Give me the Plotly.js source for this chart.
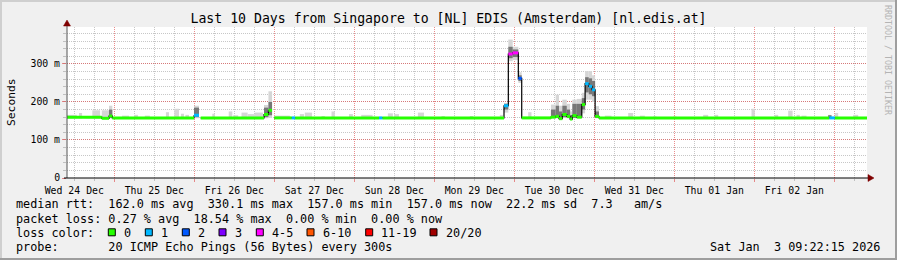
<!DOCTYPE html>
<html>
<head>
<meta charset="utf-8">
<script src="https://cdn.plot.ly/plotly-3.0.1.min.js"></script>
<style>
  html, body { margin: 0; padding: 0; background: #f0f0f0; }
  #wrap { position: relative; width: 897px; height: 260px; overflow: hidden; }
  #chart { width: 897px; height: 260px; }
  .bd { position: absolute; pointer-events: none; }
</style>
</head>
<body>
<div id="wrap">
  <div id="chart"></div>
  <div class="bd" style="left:0;top:0;width:897px;height:2px;background:#cfcfcf"></div>
  <div class="bd" style="left:0;top:0;width:2px;height:260px;background:#cfcfcf"></div>
  <div class="bd" style="left:0;top:258px;width:897px;height:2px;background:#9e9e9e"></div>
  <div class="bd" style="left:895px;top:0;width:2px;height:260px;background:#9e9e9e"></div>
</div>
<script>
// ---------------- DATA ----------------
const titleText = 'Last 10 Days from Singapore to [NL] EDIS (Amsterdam) [nl.edis.at]';
const rangeStart = '2025-12-24 09:49';
const rangeEnd = '2026-01-03 09:49';

// median RTT (ms) as step series; null = no data; loss = lost pings of 20
const medTime = ['2025-12-24 09:49','2025-12-24 20:15','2025-12-24 22:25','2025-12-24 23:25',
  '2025-12-25 23:55','2025-12-26 01:25','2025-12-26 01:55','2025-12-26 20:55','2025-12-26 22:15','2025-12-26 23:20',
  '2025-12-27 00:00','2025-12-27 05:15','2025-12-27 06:15','2025-12-28 07:25','2025-12-28 08:25',
  '2025-12-29 20:55','2025-12-29 22:13','2025-12-29 23:32','2025-12-30 01:13','2025-12-30 02:14',
  '2025-12-30 11:00','2025-12-30 12:25','2025-12-30 13:25','2025-12-30 14:25','2025-12-30 15:45',
  '2025-12-30 16:45','2025-12-30 17:25','2025-12-30 18:45','2025-12-30 20:15','2025-12-30 21:15',
  '2025-12-30 22:20','2025-12-30 23:20','2025-12-31 00:15','2025-12-31 01:25',
  '2026-01-02 22:30','2026-01-03 00:10'];
const medMs = [160,157,163,158,
  165,null,158,167,178,null,
  158,158,158,158,158,
  190,326,329,262,158,
  160,162,156,167,162,
  155,164,160,193,248,
  241,232,162,158,
  158,158];
const medLoss = [0,0,0,0,
  1,0,0,0,0,0,
  0,1,0,1,0,
  1,4,4,2,0,
  0,0,0,0,0,
  0,0,0,0,1,
  1,1,0,0,
  1,0];

// smoke (spread of the 20 pings): outer band and darker inner band, ms
const smkStart = ['2025-12-24 09:49','2025-12-24 13:25','2025-12-24 15:15','2025-12-24 17:25','2025-12-24 20:15','2025-12-24 22:25',
  '2025-12-25 02:20','2025-12-25 05:55','2025-12-25 09:10','2025-12-25 15:30','2025-12-25 18:00','2025-12-25 20:00','2025-12-25 21:20','2025-12-25 23:55',
  '2025-12-26 05:25','2025-12-26 10:20','2025-12-26 11:40','2025-12-26 14:10','2025-12-26 16:00','2025-12-26 18:10','2025-12-26 20:55','2025-12-26 22:15',
  '2025-12-27 00:00','2025-12-27 07:40','2025-12-27 09:10','2025-12-27 14:10','2025-12-27 17:10','2025-12-27 22:25',
  '2025-12-28 02:05','2025-12-28 10:05','2025-12-28 11:55','2025-12-28 19:05',
  '2025-12-29 02:10','2025-12-29 10:40','2025-12-29 19:40','2025-12-29 20:55','2025-12-29 22:13','2025-12-29 23:32','2025-12-30 01:13',
  '2025-12-30 04:10','2025-12-30 11:00','2025-12-30 12:25','2025-12-30 13:25','2025-12-30 14:25','2025-12-30 15:45','2025-12-30 16:45',
  '2025-12-30 17:25','2025-12-30 18:45','2025-12-30 20:15','2025-12-30 21:15','2025-12-30 22:20','2025-12-30 23:20','2025-12-31 00:15',
  '2025-12-31 03:10','2025-12-31 10:10','2025-12-31 13:40','2025-12-31 17:40','2025-12-31 23:40',
  '2026-01-01 08:40','2026-01-01 12:10','2026-01-01 23:10',
  '2026-01-02 06:10','2026-01-02 10:10','2026-01-02 12:40','2026-01-02 14:10','2026-01-02 22:10','2026-01-03 00:10','2026-01-03 05:40'];
const smkEnd = ['2025-12-24 12:45','2025-12-24 14:20','2025-12-24 16:45','2025-12-24 19:45','2025-12-24 22:25','2025-12-24 23:25',
  '2025-12-25 04:25','2025-12-25 07:05','2025-12-25 10:40','2025-12-25 16:25','2025-12-25 19:25','2025-12-25 20:55','2025-12-25 22:25','2025-12-26 01:25',
  '2025-12-26 06:10','2025-12-26 11:25','2025-12-26 13:10','2025-12-26 16:00','2025-12-26 18:10','2025-12-26 20:35','2025-12-26 22:15','2025-12-26 23:20',
  '2025-12-27 04:40','2025-12-27 08:55','2025-12-27 11:20','2025-12-27 15:10','2025-12-27 18:10','2025-12-27 23:35',
  '2025-12-28 05:30','2025-12-28 11:35','2025-12-28 13:25','2025-12-28 20:55',
  '2025-12-29 03:10','2025-12-29 11:40','2025-12-29 20:40','2025-12-29 22:13','2025-12-29 23:32','2025-12-30 01:13','2025-12-30 02:14',
  '2025-12-30 05:10','2025-12-30 12:25','2025-12-30 13:25','2025-12-30 14:25','2025-12-30 15:45','2025-12-30 16:45','2025-12-30 17:25',
  '2025-12-30 18:45','2025-12-30 20:15','2025-12-30 21:15','2025-12-30 22:20','2025-12-30 23:20','2025-12-31 00:15','2025-12-31 01:25',
  '2025-12-31 05:10','2025-12-31 11:40','2025-12-31 15:10','2025-12-31 18:40','2026-01-01 00:40',
  '2026-01-01 10:10','2026-01-01 13:10','2026-01-02 00:10',
  '2026-01-02 07:10','2026-01-02 11:30','2026-01-02 13:40','2026-01-02 15:40','2026-01-02 23:10','2026-01-03 01:10','2026-01-03 07:10'];
const smkLo = [157,157,157,157,155,157,
  157,157,157,157,157,157,157,157,
  157,157,157,157,157,157,157,158,
  157,157,157,157,157,157,
  157,157,157,157,
  157,157,157,172,307,310,250,
  157,157,157,155,158,157,154,
  157,157,170,206,206,200,157,
  157,157,157,157,157,
  157,157,157,
  157,157,157,157,157,157,157];
const smkHi = [166,171,163,178,178,190,
  164,166,164,173,182,169,166,190,
  169,175,165,172,168,172,192,228,
  164,168,172,163,175,168,
  166,170,168,172,
  163,163,166,197,364,345,278,
  173,193,219,190,206,195,175,
  206,208,224,281,281,270,189,
  164,171,164,162,162,
  166,166,182,
  166,177,166,164,166,171,166];
const inLo = [null,null,null,null,null,158,
  null,null,null,null,null,null,null,160,
  null,null,null,null,null,null,160,165,
  null,null,null,null,null,null,
  null,null,null,null,
  null,null,null,180,315,318,255,
  null,158,158,156,160,158,155,
  158,158,180,225,220,215,158,
  null,null,null,null,null,
  null,null,null,
  null,null,null,null,158,null,null];
const inHi = [null,null,null,null,null,180,
  null,null,null,null,null,null,null,185,
  null,null,null,null,null,null,185,200,
  null,null,null,null,null,null,
  null,null,null,null,
  null,null,null,195,345,338,270,
  null,180,190,175,190,180,165,
  195,195,210,265,262,255,175,
  null,null,null,null,null,
  null,null,null,
  null,null,null,null,165,null,null];

// y ticks
const yTickVals = [0, 100, 200, 300];
const yTickText = ['0', '100 m', '200 m', '300 m'];

// legend content
const lossLabels = ['0', '1', '2', '3', '4-5', '6-10', '11-19', '20/20'];
const lossMaxCount = [0, 1, 2, 3, 5, 10, 19, 20];
const lossColors = ['#26ff00', '#00b8ff', '#0059ff', '#7e00ff', '#ff00ff', '#ff5500', '#ff0000', '#a10000'];
const legendLine1 = 'median rtt:  162.0 ms avg  330.1 ms max  157.0 ms min  157.0 ms now  22.2 ms sd  7.3   am/s';
const legendLine2 = 'packet loss: 0.27 % avg  18.54 % max  0.00 % min  0.00 % now';
const legendLine3 = 'loss color:';
const legendLine4 = 'probe:'.padEnd(13, ' ') + '20 ICMP Echo Pings (56 Bytes) every 300s';
const stampText = 'Sat Jan  3 09:22:15 2026';
const creditText = 'RRDTOOL / TOBI OETIKER';

// ---------------- BUILD ----------------
const toMs = s => Date.parse(s.replace(' ', 'T') + ':00Z');
const mono = 'DejaVu Sans Mono';
const L = 67, R = 867, T = 27, B = 178;
const px = x => (x - L) / (R - L);
const py = y => (B - y) / (B - T);
const nb = s => s.replace(/ /g, '\u00a0');
const lossColor = n => { for (let i = 0; i < lossMaxCount.length; i++) if (n <= lossMaxCount[i]) return lossColors[i]; return lossColors[lossColors.length - 1]; };

const traces = [];
// outer smoke
{
  const xs = [], ws = [], bs = [], ys = [];
  for (let i = 0; i < smkStart.length; i++) {
    const a = toMs(smkStart[i]), b = toMs(smkEnd[i]);
    xs.push((a + b) / 2); ws.push(b - a); bs.push(smkLo[i]); ys.push(smkHi[i] - smkLo[i]);
  }
  traces.push({type: 'bar', x: xs, y: ys, base: bs, width: ws, marker: {color: '#d6d6d6', line: {width: 0}}, hoverinfo: 'skip'});
}
// inner smoke
{
  const xs = [], ws = [], bs = [], ys = [];
  for (let i = 0; i < smkStart.length; i++) {
    if (inLo[i] === null) continue;
    const a = toMs(smkStart[i]), b = toMs(smkEnd[i]);
    xs.push((a + b) / 2); ws.push(b - a); bs.push(inLo[i]); ys.push(inHi[i] - inLo[i]);
  }
  traces.push({type: 'bar', x: xs, y: ys, base: bs, width: ws, marker: {color: '#777777', line: {width: 0}}, hoverinfo: 'skip'});
}
// black median step line
{
  const xs = medTime.map(toMs).concat([toMs(rangeEnd)]);
  const ys = medMs.concat([medMs[medMs.length - 1]]);
  traces.push({type: 'scatter', mode: 'lines', x: xs, y: ys, line: {color: '#000000', width: 1.2, shape: 'hv'}, connectgaps: false, hoverinfo: 'skip'});
}
// loss-coloured median segments
{
  const groups = {};
  for (let i = 0; i < medTime.length; i++) {
    if (medMs[i] === null) continue;
    const a = toMs(medTime[i]);
    const b = i + 1 < medTime.length ? toMs(medTime[i + 1]) : toMs(rangeEnd);
    const c = lossColor(medLoss[i]);
    if (!groups[c]) groups[c] = {x: [], y: []};
    groups[c].x.push(a, b, null);
    groups[c].y.push(medMs[i], medMs[i], null);
  }
  for (const c in groups) {
    traces.push({type: 'scatter', mode: 'lines', x: groups[c].x, y: groups[c].y, line: {color: c, width: 3}, connectgaps: false, hoverinfo: 'skip'});
  }
}

const redGrid = 'rgba(222,80,80,0.65)';
const grayGrid = 'rgba(143,143,143,0.5)';
const txt = (x, y, text, opts) => Object.assign({xref: 'paper', yref: 'paper', x: px(x), y: py(y), text: nb(text), showarrow: false,
  xanchor: 'left', yanchor: 'middle', font: {family: mono, size: 11.8, color: '#000'}, borderpad: 0}, opts || {});

const annotations = [
  txt(15, 204.5, legendLine1),
  txt(15, 218.5, legendLine2),
  txt(15, 232.5, legendLine3),
  txt(15, 246.5, legendLine4),
  txt(881, 246.5, stampText, {xanchor: 'right'}),
  {xref: 'paper', yref: 'paper', x: px(11), y: py(102), text: 'Seconds', showarrow: false, textangle: -90,
   xanchor: 'center', yanchor: 'middle', font: {family: mono, size: 11.3, color: '#000'}},
  {xref: 'paper', yref: 'paper', x: px(888), y: py(60), text: nb(creditText), showarrow: false, textangle: 90,
   xanchor: 'center', yanchor: 'middle', font: {family: mono, size: 8.3, color: '#b4b4b4'}}
];
const boxX = [108.3, 145.3, 182.3, 219, 256.3, 307, 365.7, 430];
const shapes = [];
lossLabels.forEach((lab, i) => {
  shapes.push({type: 'rect', xref: 'paper', yref: 'paper', x0: px(boxX[i]), x1: px(boxX[i] + 7), y0: py(228.8), y1: py(235.8),
    fillcolor: lossColors[i], line: {color: '#000', width: 1}, layer: 'above'});
  annotations.push(txt(boxX[i] + 14.5, 232.5, lab));
});
// axis arrows and extensions
shapes.push({type: 'line', xref: 'paper', yref: 'paper', x0: px(67), x1: px(67), y0: py(178), y1: py(23), line: {color: '#555', width: 1}, layer: 'above'});
shapes.push({type: 'line', xref: 'paper', yref: 'paper', x0: px(64), x1: px(870), y0: py(178), y1: py(178), line: {color: '#000', width: 1}, layer: 'above'});
shapes.push({type: 'path', xref: 'paper', yref: 'paper', path: `M${px(63.5)},${py(26)} L${px(70.5)},${py(26)} L${px(67)},${py(20)} Z`,
  fillcolor: '#7f0000', line: {color: '#7f0000', width: 0.5}, layer: 'above'});
shapes.push({type: 'path', xref: 'paper', yref: 'paper', path: `M${px(868)},${py(174.5)} L${px(868)},${py(181.5)} L${px(874)},${py(178)} Z`,
  fillcolor: '#7f0000', line: {color: '#7f0000', width: 0.5}, layer: 'above'});

const layout = {
  width: 897, height: 260,
  margin: {l: L, r: 897 - R, t: T, b: 260 - B, pad: 0},
  paper_bgcolor: '#f0f0f0', plot_bgcolor: '#ffffff',
  showlegend: false, barmode: 'overlay',
  title: {text: titleText, font: {family: mono, size: 13.2, color: '#000'}, x: 0.5, xref: 'container', xanchor: 'center',
    y: 1 - 18 / 260, yref: 'container', yanchor: 'middle'},
  xaxis: {type: 'date', range: [rangeStart, rangeEnd], tick0: '2025-12-24 00:00', dtick: 86400000, ticklabelmode: 'period',
    tickformat: '%a %d %b', tickfont: {family: mono, size: 9.85, color: '#000'},
    ticks: 'outside', ticklen: 3, tickcolor: redGrid, tickwidth: 1,
    showgrid: true, gridcolor: redGrid, griddash: '1px,1px', gridwidth: 1,
    minor: {tick0: '2025-12-24 00:00', dtick: 21600000, showgrid: true, gridcolor: grayGrid, griddash: '1px,1px', gridwidth: 1,
      ticks: 'outside', ticklen: 2, tickcolor: grayGrid},
    showline: false, zeroline: false, fixedrange: true},
  yaxis: {range: [0, 397], tickvals: yTickVals, ticktext: yTickText, tickfont: {family: mono, size: 9.8, color: '#000'},
    ticks: 'outside', ticklen: 4, tickcolor: redGrid, tickwidth: 1,
    showgrid: true, gridcolor: redGrid, griddash: '1px,1px', gridwidth: 1,
    minor: {dtick: 20, tick0: 0, showgrid: true, gridcolor: grayGrid, griddash: '1px,1px', gridwidth: 1, ticks: 'outside', ticklen: 3, tickcolor: grayGrid},
    showline: false, zeroline: false, fixedrange: true},
  annotations: annotations,
  shapes: shapes
};

Plotly.newPlot('chart', traces, layout, {staticPlot: true, displayModeBar: false});
</script>
</body>
</html>
